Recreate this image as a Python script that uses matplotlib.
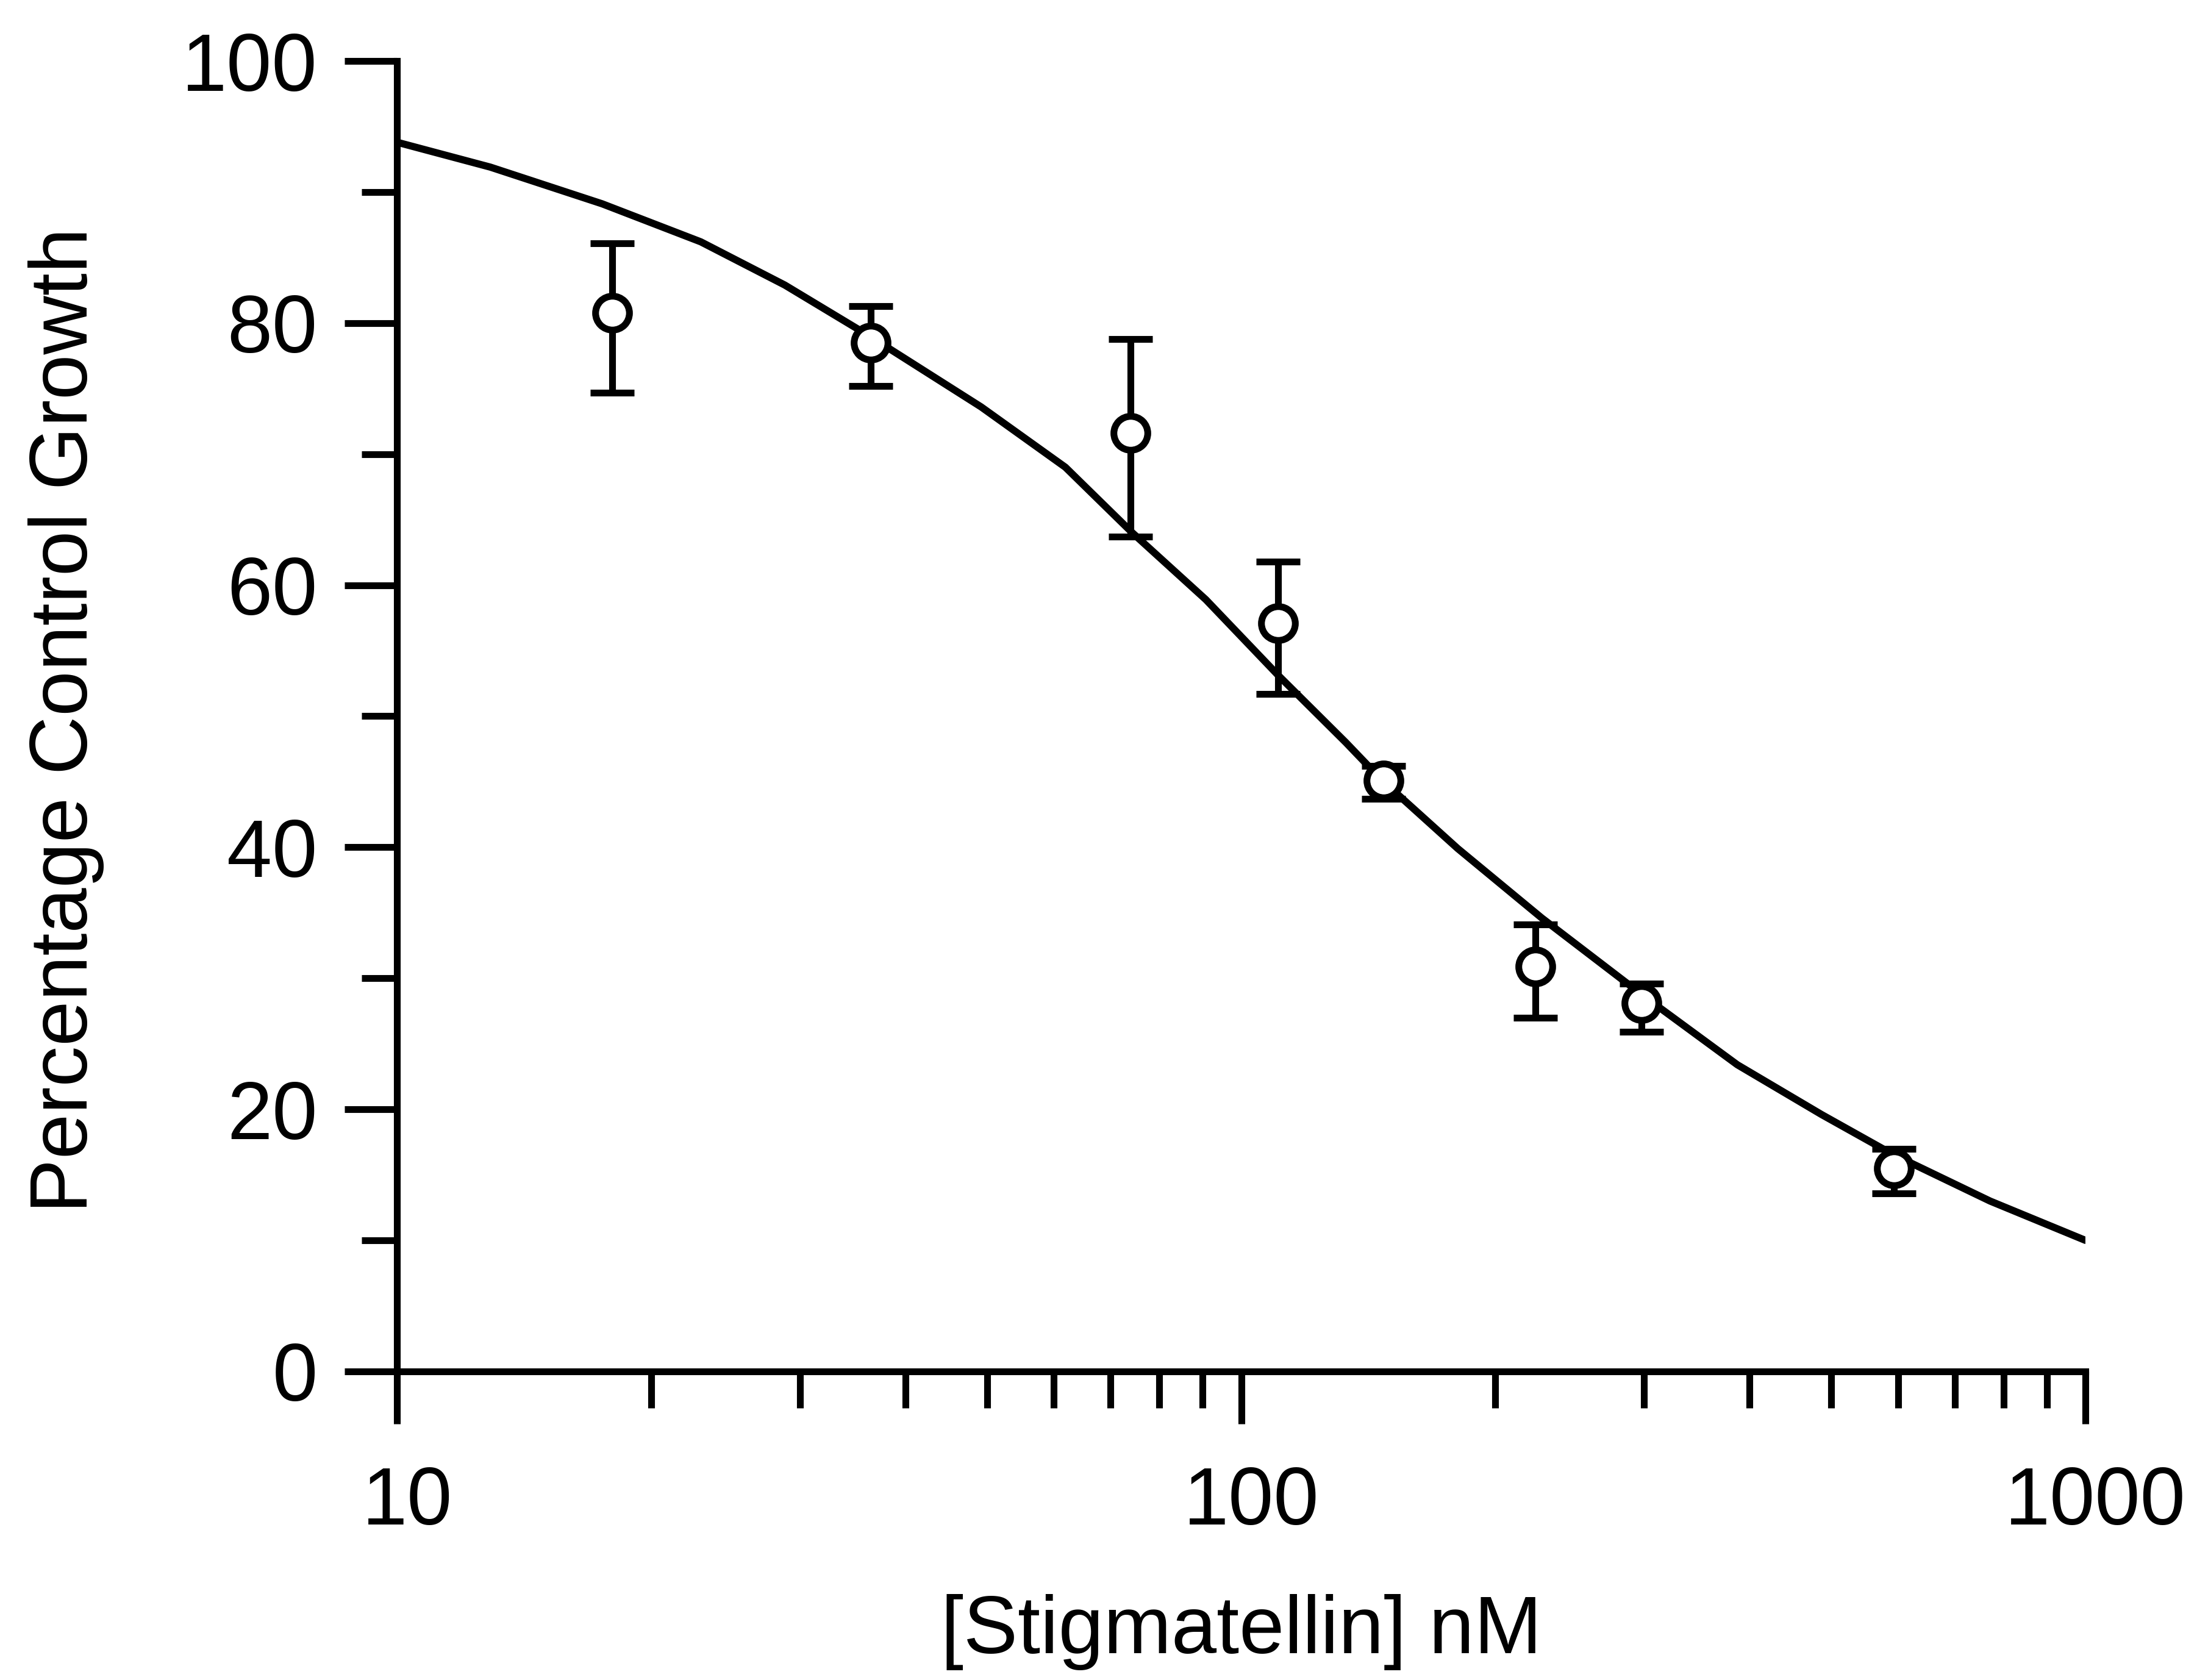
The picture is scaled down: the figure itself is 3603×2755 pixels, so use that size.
import matplotlib
matplotlib.use("Agg")
import matplotlib.pyplot as plt
from matplotlib.ticker import FixedLocator, NullFormatter
from matplotlib.transforms import ScaledTranslation

plt.rcParams['font.family'] = ['Liberation Sans', 'DejaVu Sans']

# measured data points
conc = [18.0, 36.4, 74.0, 110.5, 147.5, 223.0, 298.0, 593.0]
growth = [80.8, 78.5, 71.6, 57.1, 45.1, 30.9, 28.1, 15.5]
err_low = [6.1, 3.3, 7.9, 5.4, 1.4, 3.9, 2.2, 1.9]
err_high = [5.3, 2.8, 7.2, 4.7, 1.1, 3.2, 1.5, 1.5]

# fitted curve
curve_x = [10, 12.9, 17.5, 22.9, 28.8, 36.3, 49.2, 61.9, 74.3, 90.8, 110.7, 133.0,
           146.9, 180.5, 227, 299, 387, 487, 590, 771, 1000]
curve_y = [93.8, 91.9, 89.1, 86.2, 82.9, 79.0, 73.6, 69.0, 64.0, 58.9, 53.1, 48.0,
           45.1, 39.9, 34.6, 28.7, 23.4, 19.6, 16.6, 13.0, 10.0]

xticks = [10, 100, 1000]
xtick_labels = ['10', '100', '1000']
yticks = [0, 20, 40, 60, 80, 100]
ytick_labels = ['0', '20', '40', '60', '80', '100']
x_minor = [20, 30, 40, 50, 60, 70, 80, 90, 200, 300, 400, 500, 600, 700, 800, 900]
y_minor = [10, 30, 50, 70, 90]

fig = plt.figure(figsize=(36.03, 27.55), dpi=100)
ax = fig.add_axes([0.1807, 0.1837, 0.7685, 0.78])

lw = 8.0
ax.plot(curve_x, curve_y, color='black', lw=lw + 0.5, zorder=2,
        solid_capstyle='round', solid_joinstyle='round')
ax.errorbar(conc, growth, yerr=[err_low, err_high], fmt='o', color='black',
            ecolor='black', elinewidth=lw, capsize=26, capthick=lw + 1,
            markersize=40, markeredgewidth=lw, markerfacecolor='white',
            markeredgecolor='black', zorder=3)

ax.set_xscale('log')
ax.set_xlim(10, 1000)
ax.set_ylim(0, 100)

ax.xaxis.set_major_locator(FixedLocator(xticks))
ax.set_xticklabels(xtick_labels)
ax.xaxis.set_minor_locator(FixedLocator(x_minor))
ax.xaxis.set_minor_formatter(NullFormatter())
ax.yaxis.set_major_locator(FixedLocator(yticks))
ax.set_yticklabels(ytick_labels)
ax.yaxis.set_minor_locator(FixedLocator(y_minor))

for s in ['top', 'right']:
    ax.spines[s].set_visible(False)
for s in ['left', 'bottom']:
    ax.spines[s].set_linewidth(lw)
    ax.spines[s].set_capstyle('projecting')

ax.tick_params(axis='x', which='major', direction='out', length=62, width=lw, pad=49, labelsize=96)
ax.tick_params(axis='x', which='minor', direction='out', length=43, width=lw)
ax.tick_params(axis='y', which='major', direction='out', length=62, width=lw, pad=32, labelsize=96)
ax.tick_params(axis='y', which='minor', direction='out', length=42, width=lw)

offset = ScaledTranslation(12 / 72, 0, fig.dpi_scale_trans)
for lab in ax.get_xticklabels():
    lab.set_transform(lab.get_transform() + offset)

ax.set_xlabel('[Stigmatellin] nM', fontsize=96)
ax.set_ylabel('Percentage Control Growth', fontsize=96)
ax.xaxis.set_label_coords(0.5, -0.170)
ax.yaxis.set_label_coords(-0.1733, 0.497)

fig.savefig('out.png', dpi=100, facecolor='white')
